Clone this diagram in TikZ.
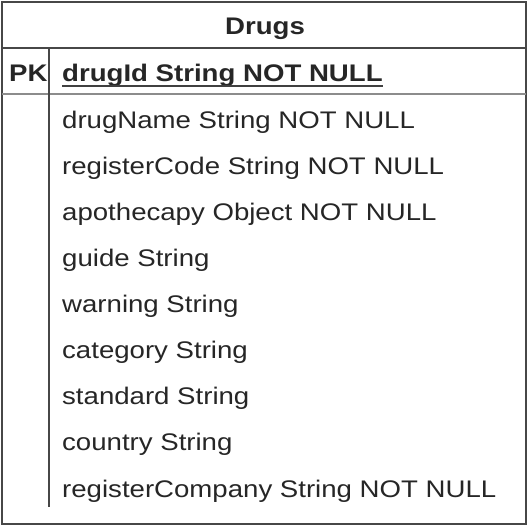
\documentclass[tikz,border=0pt]{standalone}
\usepackage{fontspec}
\setmainfont{Liberation Sans}[FakeStretch=1.15]
\begin{document}
\begin{tikzpicture}[x=1pt,y=-1pt,
  field/.style={anchor=base west,inner sep=0pt,font=\fontsize{24}{27}\selectfont,text=black!85},
  bfield/.style={field,font=\fontsize{24}{27}\selectfont\bfseries},
  border/.style={draw=black!72,line width=1.8pt},
  sep/.style={draw=black!45,line width=2.2pt}]
\useasboundingbox (0,0) rectangle (531,528);
\fill[white] (0,0) rectangle (531,528);
\coordinate (tl) at (2,2);
\coordinate (br) at (526,524);
\coordinate (h1l) at (2,48); \coordinate (h1r) at (526,48);
\coordinate (h2l) at (2,94); \coordinate (h2r) at (526,94);
\coordinate (vt) at (49,48); \coordinate (vb) at (49,507);
\draw[border] (tl) rectangle (br);
\draw[border] (h1l) -- (h1r);
\draw[sep] (h2l) -- (h2r);
\draw[border] (vt) -- (vb);
\node[bfield,anchor=base] (title) at (265,34) {Drugs};
\node[bfield] (pk) at (9,81) {PK};
\node[bfield] (pkf) at (62,81) {drugId String NOT NULL};
\coordinate (ul1) at ([yshift=-5pt]pkf.base west);
\coordinate (ul2) at ([yshift=-5pt]pkf.base east);
\draw[draw=black!75,line width=1.6pt] (ul1) -- (ul2);
\node[field] (f1) at (62,128) {drugName String NOT NULL};
\node[field] (f2) at (62,174.1) {registerCode String NOT NULL};
\node[field] (f3) at (62,220.2) {apothecapy Object NOT NULL};
\node[field] (f4) at (62,266.4) {guide String};
\node[field] (f5) at (62,312.5) {warning String};
\node[field] (f6) at (62,358.6) {category String};
\node[field] (f7) at (62,404.8) {standard String};
\node[field] (f8) at (62,450.9) {country String};
\node[field] (f9) at (62,497) {registerCompany String NOT NULL};
\end{tikzpicture}
\end{document}
